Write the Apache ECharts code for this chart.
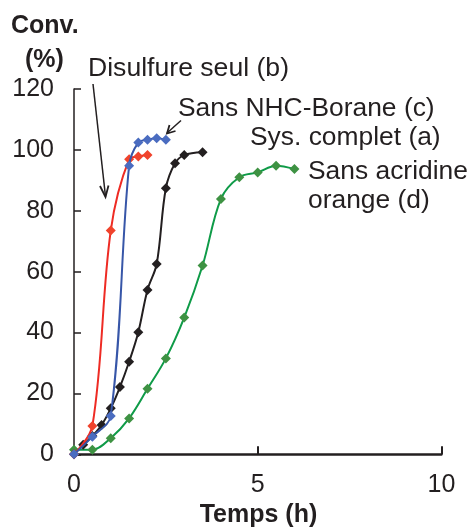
<!DOCTYPE html>
<html>
<head>
<meta charset="utf-8">
<script src="https://cdn.jsdelivr.net/npm/echarts@6/dist/echarts.min.js"></script>
<style>
html,body{margin:0;padding:0;background:#fff;}
#chart{width:470px;height:529px;}
</style>
</head>
<body>
<div id="chart"></div>
<script>
// Data (time in h, conversion in %)
const sysComplet = [[0,0],[0.25,3.1],[0.5,6],[0.75,9.6],[1,15.1],[1.25,22.1],[1.5,30.4],[1.75,40.1],[2,54],[2.25,62.5],[2.5,87.4],[2.75,95.6],[3,98.3],[3.5,99.2]];
const disulfureSeul = [[0,0],[0.5,9.3],[1,73.5],[1.5,96.9],[1.75,97.8],[2,98.3]];
const sansNHC = [[0,0],[0.5,5.8],[1,12.6],[1.5,94.8],[1.75,102.4],[2,103.3],[2.25,103.8],[2.5,103.3]];
const sansAcridine = [[0,1.5],[0.5,1.5],[1,5.3],[1.5,11.8],[2,21.5],[2.5,31.5],[3,44.9],[3.5,62],[4,83.9],[4.5,91],[5,92.6],[5.5,94.8],[6,93.7]];

const seriesNames = ['Sys. complet (a)','Disulfure seul (b)','Sans NHC-Borane (c)','Sans acridine orange (d)'];
const xTicks = [0,5,10];
const yTicks = [0,20,40,60,80,100,120];

const FONT = "'Liberation Sans', Arial, Helvetica, sans-serif";
const TXT = '#231f20';

const chart = echarts.init(document.getElementById('chart'));

function mkSeries(name, data, lineColor, markColor, z){
  return {
    name: name, type: 'line', data: data, smooth: 0.35,
    symbol: 'diamond', symbolSize: 10, z: z,
    lineStyle: {color: lineColor, width: 2},
    itemStyle: {color: markColor},
    animation: false
  };
}

const option = {
  animation: false,
  backgroundColor: '#fff',
  grid: {left: 74, right: 28.6, top: 89, bottom: 74.7},
  xAxis: {
    type: 'value', min: xTicks[0], max: xTicks[xTicks.length-1], interval: 5,
    axisLine: {lineStyle: {color: TXT, width: 2.5}},
    axisTick: {inside: true, length: 8, lineStyle: {color: TXT, width: 2}},
    splitLine: {show: false},
    axisLabel: {fontSize: 25, color: TXT, fontFamily: FONT, margin: 18}
  },
  yAxis: {
    type: 'value', min: yTicks[0], max: yTicks[yTicks.length-1], interval: 20,
    axisLine: {show: true, lineStyle: {color: TXT, width: 1.5}},
    axisTick: {show: true, inside: true, length: 7, lineStyle: {color: TXT, width: 1.5}},
    splitLine: {show: false},
    axisLabel: {fontSize: 25, color: TXT, fontFamily: FONT, margin: 20, padding: [5,0,0,0]}
  },
  series: [
    mkSeries(seriesNames[3], sansAcridine, '#0f9b48', '#3e9243', 2),
    mkSeries(seriesNames[0], sysComplet, '#231f20', '#231f20', 3),
    mkSeries(seriesNames[1], disulfureSeul, '#ee2b24', '#f0432c', 4),
    mkSeries(seriesNames[2], sansNHC, '#3756a8', '#4a6cc0', 5)
  ],
  graphic: [
    {type:'text', x: 11, y: 26, style:{text:'Conv.', font:"bold 25px "+FONT, fill:TXT, verticalAlign:'middle'}},
    {type:'text', x: 25, y: 60, style:{text:'(%)', font:"bold 25px "+FONT, fill:TXT, verticalAlign:'middle'}},
    {type:'text', x: 258.5, y: 515.5, style:{text:'Temps (h)', font:"bold 25px "+FONT, fill:TXT, align:'center', verticalAlign:'middle'}},
    {type:'text', x: 88, y: 69, style:{text: seriesNames[1], font:"26.6px "+FONT, fill:TXT, verticalAlign:'middle'}},
    {type:'text', x: 178, y: 109, style:{text: seriesNames[2], font:"26.4px "+FONT, fill:TXT, verticalAlign:'middle'}},
    {type:'text', x: 250, y: 138, style:{text: seriesNames[0], font:"26.4px "+FONT, fill:TXT, verticalAlign:'middle'}},
    {type:'text', x: 308, y: 172, style:{text:'Sans acridine', font:"26.4px "+FONT, fill:TXT, verticalAlign:'middle'}},
    {type:'text', x: 308, y: 201, style:{text:'orange (d)', font:"26.4px "+FONT, fill:TXT, verticalAlign:'middle'}},
    // arrow for Disulfure seul
    {type:'line', shape:{x1:93, y1:84, x2:105.5, y2:196.5}, style:{stroke:TXT, lineWidth:1.5}},
    {type:'polyline', shape:{points:[[100,186],[105.5,197],[108.5,185.5]]}, style:{stroke:TXT, lineWidth:1.8, fill:null}},
    // arrow for Sans NHC-Borane
    {type:'line', shape:{x1:181, y1:120.5, x2:167, y2:133}, style:{stroke:TXT, lineWidth:1.5}},
    {type:'polyline', shape:{points:[[169.5,125],[167,133.5],[175.5,131]]}, style:{stroke:TXT, lineWidth:1.8, fill:null}}
  ]
};
chart.setOption(option);
</script>
</body>
</html>
